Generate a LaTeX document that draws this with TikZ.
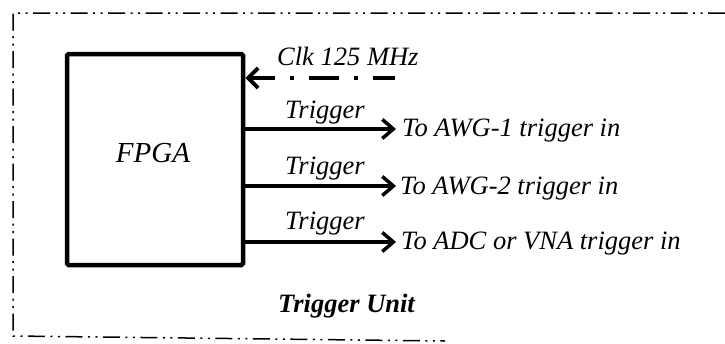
\documentclass[tikz,border=0pt]{standalone}
\usepackage{fontspec}
\setmainfont{Liberation Serif}
\usetikzlibrary{arrows.meta}
\begin{document}
\begin{tikzpicture}[x=1pt,y=-1pt,
  frameline/.style={line width=1.5pt, dash pattern=on 17pt off 5.5pt on 2pt off 5.5pt on 2pt off 5.5pt},
  fpgabox/.style={draw, line width=4.5pt, rounded corners=1.5pt, minimum width=176pt, minimum height=211pt, inner sep=0pt},
  lbl/.style={font=\fontsize{26.5}{30}\selectfont\itshape, inner sep=0pt, anchor=base west},
  trig/.style={line width=3.5pt, -{Straight Barb[length=11pt,width=19pt]}},
  clkline/.style={line width=4pt, -{Straight Barb[length=10pt,width=20pt]}, dash pattern=on 30pt off 15pt on 4pt off 15pt, dash phase=8pt}
]
\useasboundingbox (0,0) rectangle (725,343);
% outer frame
\draw[frameline] (725,13) -- (13,13) -- (13,336) -- (445,341);
% FPGA box
\node[fpgabox] (fpga) at (155,159.5) {};
\node[font=\fontsize{29}{34}\selectfont\itshape, inner sep=0pt] (fpgatext) at (153,153) {FPGA};
% clock
\node[lbl] (clk) at (277,65) {Clk 125 MHz};
\coordinate (clkstart) at (395,78);
\draw[clkline] (clkstart) -- (clkstart -| fpga.east);
% trigger outputs
\coordinate (e1) at (396,129);
\coordinate (e2) at (396,186);
\coordinate (e3) at (396,242);
\draw[trig] (e1 -| fpga.east) -- (e1);
\draw[trig] (e2 -| fpga.east) -- (e2);
\draw[trig] (e3 -| fpga.east) -- (e3);
\node[lbl] (tr1) at (285,118) {Trigger};
\node[lbl] (tr2) at (285,174) {Trigger};
\node[lbl] (tr3) at (285,229) {Trigger};
\node[lbl] (out1) at (402,136) {To AWG-1 trigger in};
\node[lbl] (out2) at (400,194) {To AWG-2 trigger in};
\node[lbl] (out3) at (401,249) {To ADC or VNA trigger in};
% unit label
\node[lbl, font=\fontsize{26.5}{30}\selectfont\bfseries\itshape] (unit) at (278,312) {Trigger Unit};
\end{tikzpicture}
\end{document}
